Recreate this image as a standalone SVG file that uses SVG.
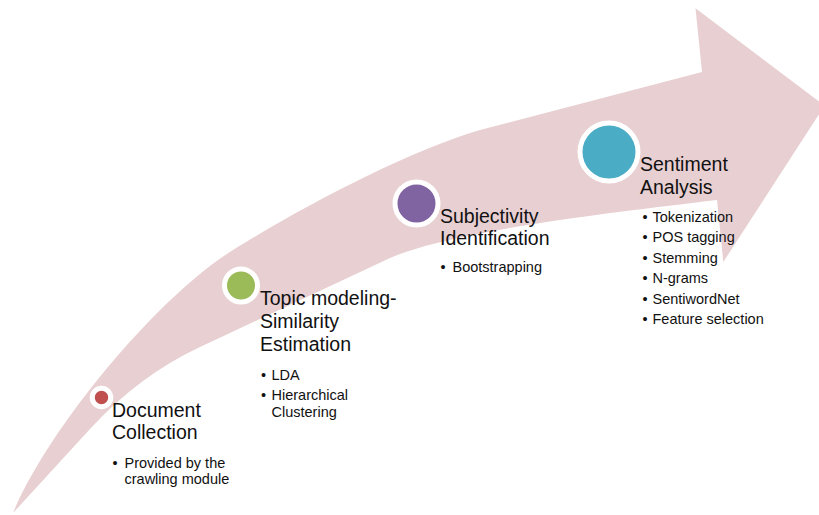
<svg xmlns="http://www.w3.org/2000/svg" width="819" height="515" viewBox="0 0 819 515">
<style>
.title{font-family:"Liberation Sans",Arial,sans-serif;font-size:19.5px;fill:#111}
.item{font-family:"Liberation Sans",Arial,sans-serif;font-size:14.5px;fill:#111}
.ring{stroke:#fff;stroke-width:5}
</style>
<rect width="819" height="515" fill="#fff"/>
<g id="arrow">
<path fill="#E8CFD1" d="M13,513 C50,425 160,295 233,250 C300,208 410,150 480,130 L702,72 L695.5,8.3 L824.5,105.7 L723.3,262 L717,200 C617,212 455,230 390,258 L200,347 Q139,375.5 90,429 Z"/>
</g>
<g id="connectors"></g>
<g id="node-1">
<circle class="ring" cx="101.5" cy="397.5" r="9.25" stroke-width="5.5" fill="#C0504D"/>
<text class="title" x="112" y="416.5">Document</text>
<text class="title" x="112" y="438.5">Collection</text>
<text class="item" x="112.5" y="467.5">•</text>
<text class="item" x="124.5" y="467.5">Provided by the</text>
<text class="item" x="124.5" y="484">crawling module</text>
</g>
<g id="node-2">
<circle class="ring" cx="241" cy="285.5" r="16.5" fill="#9BBB59"/>
<text class="title" x="260" y="305">Topic modeling-</text>
<text class="title" x="260" y="328">Similarity</text>
<text class="title" x="260" y="351">Estimation</text>
<text class="item" x="261" y="379.5">•</text>
<text class="item" x="271.5" y="379.5">LDA</text>
<text class="item" x="261" y="399.5">•</text>
<text class="item" x="271.5" y="399.5">Hierarchical</text>
<text class="item" x="271.5" y="416.5">Clustering</text>
</g>
<g id="node-3">
<circle class="ring" cx="416.5" cy="203.5" r="21.5" fill="#8064A2"/>
<text class="title" x="440" y="222.5">Subjectivity</text>
<text class="title" x="440" y="245">Identification</text>
<text class="item" x="440.5" y="271.5">•</text>
<text class="item" x="452.5" y="271.5">Bootstrapping</text>
</g>
<g id="node-4">
<circle class="ring" cx="609" cy="152" r="29" fill="#4BACC6"/>
<text class="title" x="640" y="170.5">Sentiment</text>
<text class="title" x="640" y="193.5">Analysis</text>
<text class="item" x="642.5" y="221.5">•</text>
<text class="item" x="652.5" y="221.5">Tokenization</text>
<text class="item" x="642.5" y="242">•</text>
<text class="item" x="652.5" y="242">POS tagging</text>
<text class="item" x="642.5" y="262.5">•</text>
<text class="item" x="652.5" y="262.5">Stemming</text>
<text class="item" x="642.5" y="283">•</text>
<text class="item" x="652.5" y="283">N-grams</text>
<text class="item" x="642.5" y="303.5">•</text>
<text class="item" x="652.5" y="303.5">SentiwordNet</text>
<text class="item" x="642.5" y="324">•</text>
<text class="item" x="652.5" y="324">Feature selection</text>
</g>
</svg>
